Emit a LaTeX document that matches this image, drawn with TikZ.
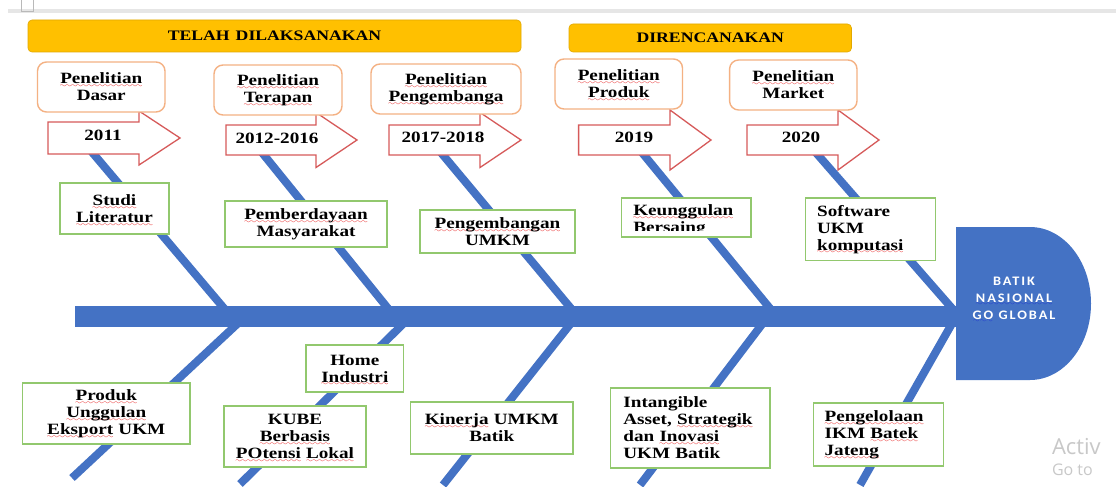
\documentclass[tikz,border=0pt]{standalone}
\usepackage{fontspec}
\setmainfont{Liberation Serif}[FakeStretch=1.22]
\newfontfamily\headfont{Carlito}[FakeStretch=1.1,LetterSpace=15]
\newfontfamily\wmfont{Open Sans}
\definecolor{fishblue}{RGB}{68,114,196}
\definecolor{oline}{RGB}{244,177,131}
\definecolor{gline}{RGB}{146,200,110}
\definecolor{rline}{RGB}{214,90,90}
\definecolor{ybar}{RGB}{255,192,0}
\definecolor{ybord}{RGB}{226,168,0}
\definecolor{topgrey}{RGB}{230,230,230}
\definecolor{squig}{RGB}{230,0,0}
\definecolor{squigb}{RGB}{30,50,210}
\definecolor{wm}{RGB}{200,200,200}
\font\sqwave=lasy7 at 7pt
\newsavebox\sqbox
\newcommand\sqc[2]{\leavevmode\sbox\sqbox{#2}\rlap{\raisebox{-3.8pt}[0pt][0pt]{\color{#1}\hbox to \wd\sqbox{\xleaders\hbox{\sqwave\char58}\hfil}}}\usebox\sqbox}
\newcommand\sq[1]{\sqc{squig}{#1}}
\newcommand\bodyfont{\fontsize{15.7}{17}\selectfont\bfseries}
\newcommand\yarrow[6]{\draw[arr] (#1,#4-#5) -- (#2,#4-#5) -- (#2,#4-#6) -- (#3,#4) -- (#2,#4+#6) -- (#2,#4+#5) -- (#1,#4+#5) -- cycle;}
\begin{document}
\begin{tikzpicture}[x=1pt,y=-1pt,
  every node/.style={inner sep=0pt,outer sep=0pt},
  bone/.style={draw=fishblue,line width=8pt},
  obox/.style={draw=oline,fill=white,line width=1.4pt,rounded corners=9pt,font=\bodyfont,align=center},
  gbox/.style={draw=gline,fill=white,line width=1.3pt,font=\bodyfont},
  gc/.style={gbox,align=center},
  gl/.style={gbox,align=left},
  arr/.style={draw=rline,fill=white,line width=1.3pt,line join=miter},
  ybarbox/.style={fill=ybar,draw=ybord,line width=0.6pt,rounded corners=4pt,font=\fontsize{14.5}{14.5}\selectfont\bfseries},
  yeartxt/.style={font=\bodyfont}]
\path[use as bounding box,fill=white] (0,0) rectangle (1116,487);
% top strip
\fill[topgrey] (8,9.3) rectangle (1116,12.7);
\draw[gray!55,line width=0.7pt] (21,0) -- (21,11.7) -- (33,11.7) -- (33,0);
% bones
\draw[bone] (90.2,150) -- (230.5,316);
\draw[bone] (259.9,150) -- (394.1,316);
\draw[bone] (438.8,150) -- (577.3,316);
\draw[bone] (639.9,150) -- (776.2,316);
\draw[bone] (813.6,150) -- (958.7,316);
\draw[bone] (245.8,316) -- (72,478);
\draw[bone] (411.2,316) -- (240,484);
\draw[bone] (576.7,316) -- (443,485);
\draw[bone] (768.3,316) -- (640,485);
\draw[bone] (956.3,316) -- (860,485);
% spine and head
\fill[fishblue] (75,306) rectangle (957,327);
\fill[fishblue] (956,227) -- (1030,227) arc[start angle=90,end angle=-90,x radius=61pt,y radius=76.5pt] -- (956,380) -- cycle;
\node[font=\headfont\fontsize{13}{17}\selectfont\bfseries,text=white,align=center] (headtxt) at (1014,298)
  {BATIK\\\sqc{squigb}{NASIONAL}\\\sqc{squigb}{GO} GLOBAL};
% title bars
\node[ybarbox,minimum width=493pt,minimum height=32pt] (telah) at (274.5,36) {TELAH\hspace{6pt}DILAKSANAKAN};
\node[ybarbox,minimum width=282.5pt,minimum height=28pt] (diren) at (710.25,38) {\raisebox{1.5pt}{DIRENCANAKAN}};
% year arrows
\yarrow{48}{139}{180}{138}{16}{27}
\yarrow{226}{316}{357}{140}{15}{27.5}
\yarrow{389}{480}{521}{140}{15}{27.5}
\yarrow{578.6}{670}{711}{140}{15}{30}
\yarrow{747}{838}{879}{140}{15}{30}
\node[yeartxt] (y1) at (103,135) {2011};
\node[yeartxt] (y2) at (277,138) {2012-2016};
\node[yeartxt] (y3) at (443,137) {2017-2018};
\node[yeartxt] (y4) at (634,137) {2019};
\node[yeartxt] (y5) at (801,137) {2020};
% research stages
\node[obox,minimum width=127.5pt,minimum height=50pt,text width=117pt] (pdasar) at (101.25,87) {\sq{Penelitian}\\Dasar};
\node[obox,minimum width=128pt,minimum height=50pt,text width=118pt] (pterapan) at (278,90) {\sq{Penelitian}\\\sq{Terapan}};
\node[obox,minimum width=150pt,minimum height=50pt,text width=140pt] (ppengemb) at (446,89) {\sq{Penelitian}\\\sq{Pengembanga}};
\node[obox,minimum width=127.5pt,minimum height=50pt,text width=117pt] (pproduk) at (618.75,84) {\sq{Penelitian}\\\sq{Produk}};
\node[obox,minimum width=127.4pt,minimum height=50pt,text width=117pt] (pmarket) at (793.3,85) {\sq{Penelitian}\\Market};
% upper causes
\node[gc,minimum width=109pt,minimum height=51pt,text width=99pt] (studi) at (114.5,208.5) {\sq{Studi}\\\sq{Literatur}};
\node[gc,minimum width=162pt,minimum height=46pt,text width=152pt] (pember) at (306,224) {\sq{Pemberdayaan}\\Masyarakat};
\node[gc,minimum width=155pt,minimum height=43pt,text width=145pt] (pumkm) at (497.5,231.5) {\sq{Pengembangan}\\UMKM};
\node[gbox,minimum width=129.5pt,minimum height=39pt,
  path picture={\clip ([yshift=7pt]path picture bounding box.south west) rectangle (path picture bounding box.north east);
    \node[font=\bodyfont,align=left,text width=106pt] (keungtxt) at ([yshift=-2.5pt]path picture bounding box.center) {\sq{Keunggulan}\\\sq{Bersaing}};}]
  (keung) at (686.25,217.5) {};
\node[gl,minimum width=130pt,minimum height=62.6pt,text width=107pt] (softw) at (870.65,229.3) {Software\\UKM\\\sq{komputasi}};
% lower causes
\node[gc,minimum width=167.5pt,minimum height=61pt,text width=157pt] (produk) at (106.25,413.5) {\sq{Produk}\\\sq{Unggulan}\\\sq{Eksport} UKM};
\node[gc,minimum width=97.6pt,minimum height=47pt,text width=88pt] (home) at (354.8,368.5) {Home\\\sq{Industri}};
\node[gc,minimum width=142pt,minimum height=61pt,text width=132pt] (kube) at (295,436.5) {KUBE\\\sq{Berbasis}\\\sq{POtensi} \sq{Lokal}};
\node[gc,minimum width=162.4pt,minimum height=52pt,text width=152pt] (kinerja) at (491.8,428) {\sq{Kinerja} UMKM\\Batik};
\node[gl,minimum width=159.2pt,minimum height=80pt,text width=134pt] (intang) at (690.4,428) {Intangible\\Asset, \sq{Strategik}\\dan \sq{Inovasi}\\UKM Batik};
\node[gl,minimum width=130.1pt,minimum height=63pt,text width=108pt] (pengel) at (878.65,434.5) {\sq{Pengelolaan}\\IKM \sq{Batek}\\\sq{Jateng}};
% watermark
\node[font=\wmfont\fontsize{22}{22}\selectfont,text=wm,anchor=west] (wm1) at (1052,447) {Activ};
\node[font=\wmfont\fontsize{16}{16}\selectfont,text=wm,anchor=west] (wm2) at (1052,470) {Go to};
\end{tikzpicture}
\end{document}
